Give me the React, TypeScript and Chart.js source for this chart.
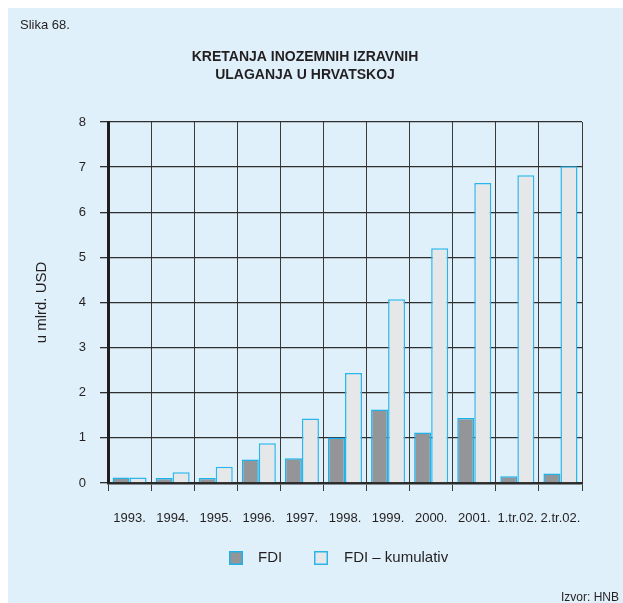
import React, { useEffect, useRef } from "react";
import { Chart, registerables } from "chart.js";

Chart.register(...registerables);

const categories = ["1993.", "1994.", "1995.", "1996.", "1997.", "1998.", "1999.", "2000.", "2001.", "1.tr.02.", "2.tr.02."];
const fdi = [0.12, 0.11, 0.11, 0.52, 0.55, 1.01, 1.63, 1.12, 1.44, 0.15, 0.21];
const fdiCumulative = [0.12, 0.24, 0.36, 0.88, 1.43, 2.44, 4.07, 5.2, 6.65, 6.82, 7.02];
const seriesNames = ["FDI", "FDI \u2013 kumulativ"];
const titleLines = ["KRETANJA INOZEMNIH IZRAVNIH", "ULAGANJA U HRVATSKOJ"];
const figureLabel = "Slika 68.";
const sourceLabel = "Izvor: HNB";
const yAxisTitle = "u mlrd. USD";

const FONT = "'Liberation Sans', Arial, Helvetica, sans-serif";
const BG = "#dff0fa";

const textPlugin = {
  id: "textPlugin",
  afterDraw(chart: any) {
    const ctx = chart.ctx;
    ctx.save();
    ctx.fillStyle = "#231f20";
    ctx.textBaseline = "middle";
    ctx.font = `13px ${FONT}`;
    ctx.textAlign = "left";
    ctx.fillText(figureLabel, 12, 17);
    ctx.font = `bold 14px ${FONT}`;
    ctx.textAlign = "center";
    ctx.fillText(titleLines[0], 297, 49);
    ctx.fillText(titleLines[1], 297, 67);
    // legend
    const ds = chart.data.datasets;
    const items = [
      { box: 221, text: 250 },
      { box: 306, text: 336 },
    ];
    ctx.font = `15px ${FONT}`;
    ctx.textAlign = "left";
    items.forEach((it, i) => {
      ctx.fillStyle = ds[i].backgroundColor;
      ctx.fillRect(it.box, 543, 14, 14);
      ctx.strokeStyle = ds[i].borderColor;
      ctx.lineWidth = 1.5;
      ctx.strokeRect(it.box + 0.75, 543.75, 12.5, 12.5);
      ctx.fillStyle = "#231f20";
      ctx.fillText(ds[i].label, it.text, 550);
    });
    ctx.font = `12px ${FONT}`;
    ctx.textAlign = "right";
    ctx.fillText(sourceLabel, 611, 590);
    ctx.restore();
  },
};

export default function App() {
  const ref = useRef<HTMLCanvasElement>(null);
  useEffect(() => {
    const chart = new Chart(ref.current as HTMLCanvasElement, {
      type: "bar",
      data: {
        labels: categories,
        datasets: [
          {
            label: seriesNames[0],
            data: fdi,
            backgroundColor: "#939598",
            borderColor: "#1bb1e9",
            borderWidth: 1.5,
          },
          {
            label: seriesNames[1],
            data: fdiCumulative,
            backgroundColor: "#e6e7e8",
            borderColor: "#2ab6ec",
            borderWidth: 1.5,
          },
        ],
      },
      options: {
        responsive: false,
        animation: false,
        devicePixelRatio: 1,
        layout: { padding: { top: 114, right: 41, left: 0, bottom: 0 } },
        datasets: { bar: { categoryPercentage: 0.79, barPercentage: 1.0 } },
        plugins: {
          legend: { display: false },
          title: { display: false },
          tooltip: { enabled: false },
        },
        scales: {
          x: {
            afterFit: (s: any) => {
              s.height = 120;
            },
            grid: {
              offset: true,
              color: "#3a3a3a",
              lineWidth: 1,
              tickLength: 8,
              drawTicks: true,
            },
            border: { display: true, color: "#2a2a2a", width: 2.5 },
            ticks: {
              color: "#231f20",
              font: { family: FONT, size: 13 },
              padding: 20,
              maxRotation: 0,
              autoSkip: false,
            },
          },
          y: {
            min: 0,
            max: 8,
            afterFit: (s: any) => {
              s.width = 100;
            },
            grid: {
              color: "#2f2f2f",
              lineWidth: 1.3,
              tickLength: 8,
              drawTicks: true,
            },
            border: { display: true, color: "#1e1e1e", width: 3 },
            ticks: {
              stepSize: 1,
              color: "#231f20",
              font: { family: FONT, size: 13 },
              padding: 14,
            },
            title: {
              display: true,
              text: yAxisTitle,
              color: "#231f20",
              font: { family: FONT, size: 15 },
              padding: { top: 25, bottom: 0 },
            },
          },
        },
      },
      plugins: [textPlugin],
    });
    return () => chart.destroy();
  }, []);

  return (
    <div
      style={{
        position: "fixed",
        left: 8,
        top: 8,
        width: 615,
        height: 595,
        background: BG,
      }}
    >
      <canvas ref={ref} width={615} height={595} style={{ display: "block" }} />
    </div>
  );
}
